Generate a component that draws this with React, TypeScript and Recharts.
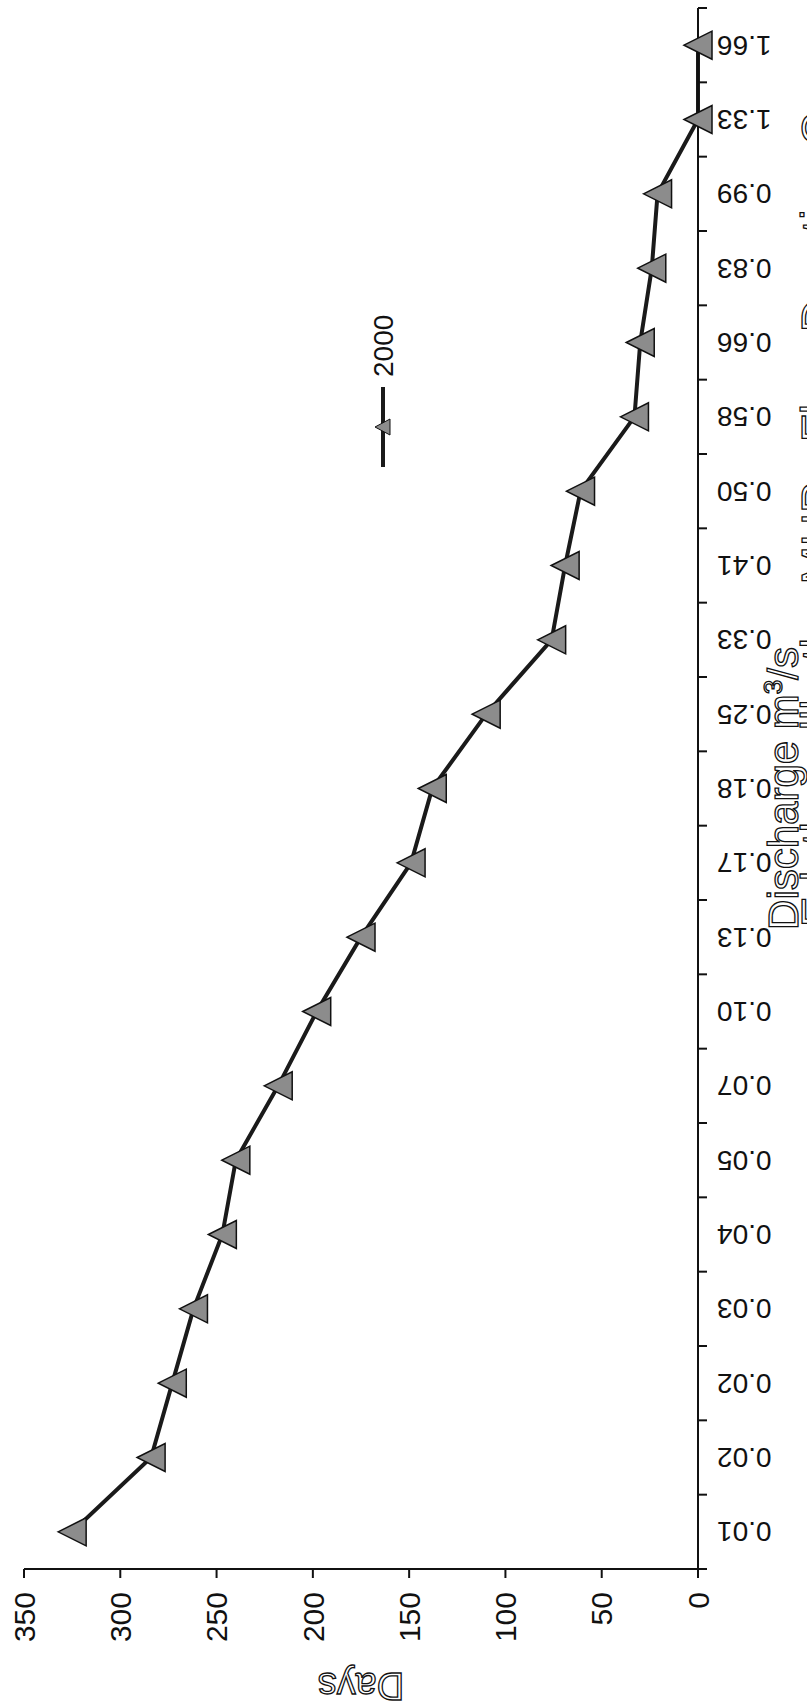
import React from 'react';
import { LineChart, Line, XAxis, YAxis, Legend } from 'recharts';

// discharge classes (m3/s) along the category axis
const discharge = [
  '0.01', '0.02', '0.02', '0.03', '0.04', '0.05', '0.07', '0.10', '0.13', '0.17', '0.18',
  '0.25', '0.33', '0.41', '0.50', '0.58', '0.66', '0.83', '0.99', '1.33', '1.66',
];
// number of days the discharge is equalled or exceeded, year 2000
const days2000 = [325, 284, 273, 262, 247, 240, 218, 198, 175, 149, 138, 110, 76, 69, 61, 33, 30, 24, 21, 0, 0];
const dayTicks = [0, 50, 100, 150, 200, 250, 300, 350];

const data = discharge.map((q, i) => ({ q, d2000: days2000[i] }));

const FONT = '"Liberation Sans", Arial, sans-serif';

// the chart is drawn landscape and turned a quarter turn, like the scanned page
const W = 1708;
const H = 807;
const Y_AXIS_W = 139;
const RIGHT = 8;
const HALF_BAND = (W - Y_AXIS_W - RIGHT) / discharge.length / 2;

const Triangle = (props: any) => {
  const { cx, cy, index } = props;
  if (cx == null || cy == null) return null;
  const s = 14;
  return (
    <polygon
      key={`tri-${index}`}
      points={`${cx},${cy - s} ${cx + s},${cy + s} ${cx - s},${cy + s}`}
      fill="#8c8c8c"
      stroke="#111"
      strokeWidth={1.5}
    />
  );
};

// Excel style: tick marks sit between the categories, labels in the middle
const CategoryTick = (props: any) => {
  const { x, y, payload, index, visibleTicksCount } = props;
  const last = index === (visibleTicksCount ?? discharge.length) - 1;
  return (
    <g>
      <line x1={x - HALF_BAND} y1={y} x2={x - HALF_BAND} y2={y + 9} stroke="#111" strokeWidth={2} />
      {last && <line x1={x + HALF_BAND} y1={y} x2={x + HALF_BAND} y2={y + 9} stroke="#111" strokeWidth={2} />}
      <text
        x={x}
        y={y + 19}
        transform={`rotate(-90, ${x}, ${y + 19})`}
        textAnchor="end"
        dominantBaseline="central"
        fontSize={28}
        fontFamily={FONT}
        fill="#111"
      >
        {payload.value}
      </text>
    </g>
  );
};

const DaysLabel = (props: any) => {
  const { viewBox } = props;
  const x = viewBox.x + 22;
  const y = viewBox.y + viewBox.height / 2;
  return (
    <text
      x={x}
      y={y}
      transform={`rotate(-90, ${x}, ${y})`}
      textAnchor="middle"
      dominantBaseline="central"
      fontSize={38}
      fontFamily={FONT}
      fill="#fff"
      stroke="#111"
      strokeWidth={1.3}
    >
      Days
    </text>
  );
};

// axis title plus the chart title, which sits under it and runs off the scanned page
const DischargeLabel = (props: any) => {
  const { viewBox } = props;
  const x = viewBox.x + viewBox.width / 2;
  const y = viewBox.y + 100;
  return (
    <g>
      <text
        x={x}
        y={y}
        textAnchor="middle"
        fontSize={42}
        fontFamily={FONT}
        fill="#fff"
        stroke="#111"
        strokeWidth={1.3}
      >
        Discharge m
        <tspan dy={-16} fontSize={26}>3</tspan>
        <tspan dy={16}>/s</tspan>
      </text>
      <text
        x={W}
        y={y + 36}
        textAnchor="end"
        fontSize={46}
        fontFamily={FONT}
        fill="#fff"
        stroke="#111"
        strokeWidth={1.3}
      >
        Edathanallkuthu MHP - Flow Duration Curves
      </text>
    </g>
  );
};

const LegendBox = () => (
  <svg width={180} height={40} style={{ display: 'block' }}>
    <line x1={0} y1={18} x2={80} y2={18} stroke="#1a1a1a" strokeWidth={4} />
    <polygon points="40,10 48,25 32,25" fill="#8c8c8c" stroke="#111" strokeWidth={1} />
    <text x={90} y={18} dominantBaseline="central" fontSize={28} fontFamily={FONT} fill="#111">
      2000
    </text>
  </svg>
);

export default function App() {
  return (
    <div
      style={{
        position: 'absolute',
        left: 0,
        top: 0,
        width: H,
        height: W,
        overflow: 'hidden',
        background: '#fff',
      }}
    >
      <div
        style={{
          width: W,
          height: H,
          transformOrigin: '0 0',
          transform: `translateY(${W}px) rotate(-90deg)`,
        }}
      >
        <LineChart
          width={W}
          height={H}
          data={data}
          margin={{ top: 24, right: RIGHT, bottom: 0, left: 0 }}
          style={{ overflow: 'visible' }}
        >
          <XAxis
            dataKey="q"
            height={109}
            padding={{ left: HALF_BAND, right: HALF_BAND }}
            axisLine={{ stroke: '#111', strokeWidth: 2 }}
            tickLine={false}
            tickSize={0}
            tickMargin={0}
            interval={0}
            tick={<CategoryTick />}
            label={<DischargeLabel />}
          />
          <YAxis
            width={Y_AXIS_W}
            domain={[0, 350]}
            ticks={dayTicks}
            axisLine={{ stroke: '#111', strokeWidth: 2 }}
            tickLine={{ stroke: '#111', strokeWidth: 2 }}
            tickSize={9}
            tickMargin={14}
            tick={{ fontSize: 30, fontFamily: FONT, fill: '#111' }}
            label={<DaysLabel />}
          />
          <Legend
            layout="horizontal"
            align="center"
            verticalAlign="middle"
            content={<LegendBox />}
            wrapperStyle={{ left: 1241, top: 365, width: 180, height: 40 }}
          />
          <Line
            dataKey="d2000"
            name="2000"
            stroke="#1a1a1a"
            strokeWidth={4}
            dot={<Triangle />}
            activeDot={false}
            isAnimationActive={false}
          />
        </LineChart>
      </div>
    </div>
  );
}
